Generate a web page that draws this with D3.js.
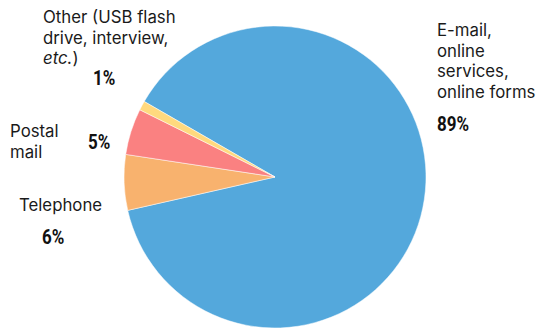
<!DOCTYPE html>
<html>
<head>
<meta charset="utf-8">
<script src="https://cdn.jsdelivr.net/npm/d3@7"></script>
<style>
  html, body { margin: 0; padding: 0; background: #fff; }
  svg { display: block; }
  .lbl { font-family: Inter, "Noto Sans", sans-serif; font-size: 16.8px; fill: #1a1a1a; }
  .pct { font-family: Roboto, "Liberation Sans", sans-serif; font-weight: bold; font-size: 20px; fill: #111; }
</style>
</head>
<body>
<svg id="chart" width="543" height="329"></svg>
<script>
// Data
const categories = ["E-mail, online services, online forms", "Telephone", "Postal mail", "Other (USB flash drive, interview, etc.)"];
const values = [89, 6, 5, 1];
const valueLabels = ["89%", "6%", "5%", "1%"];
const colors = ["#54a8dc", "#f8b26e", "#fa8181", "#ffd97e"];

// Label layout (text lines and placement)
const labelLines = [
  [["E-mail,"], ["online"], ["services,"], ["online forms"]],
  [["Telephone"]],
  [["Postal"], ["mail"]],
  [["Other (USB flash"], ["drive, interview,"], ["etc.", ")"]]
];
const labelPos = [
  {x: 437, y: 36, px: 437, py: 131},
  {x: 19, y: 211, px: 42, py: 244},
  {x: 10, y: 137, px: 88, py: 149},
  {x: 43, y: 23, px: 93, py: 85}
];

const svg = d3.select("#chart");
const cx = 275, cy = 177, r = 151;

const pie = d3.pie().sort(null).value(d => d)
  .startAngle(-60 * Math.PI / 180)
  .endAngle(300 * Math.PI / 180);
const arc = d3.arc().innerRadius(0).outerRadius(r);
const color = d3.scaleOrdinal().domain(d3.range(values.length)).range(colors);

const g = svg.append("g").attr("transform", `translate(${cx},${cy})`);
g.selectAll("path").data(pie(values)).enter().append("path")
  .attr("d", arc)
  .attr("fill", (d, i) => color(i))
  .attr("stroke", "#fff")
  .attr("stroke-width", 0.5);

const condense = 0.85;
labelLines.forEach((lines, i) => {
  const p = labelPos[i];
  const t = svg.append("text").attr("class", "lbl");
  lines.forEach((parts, j) => {
    parts.forEach((part, k) => {
      const ts = t.append("tspan").text(part);
      if (k === 0) ts.attr("x", p.x).attr("y", p.y + j * 20.7);
      if (part === "etc.") ts.attr("font-style", "italic");
    });
  });
  svg.append("text").attr("class", "pct")
    .attr("transform", `translate(${p.px},${p.py}) scale(${condense},1)`)
    .text(valueLabels[i]);
});
</script>
</body>
</html>
